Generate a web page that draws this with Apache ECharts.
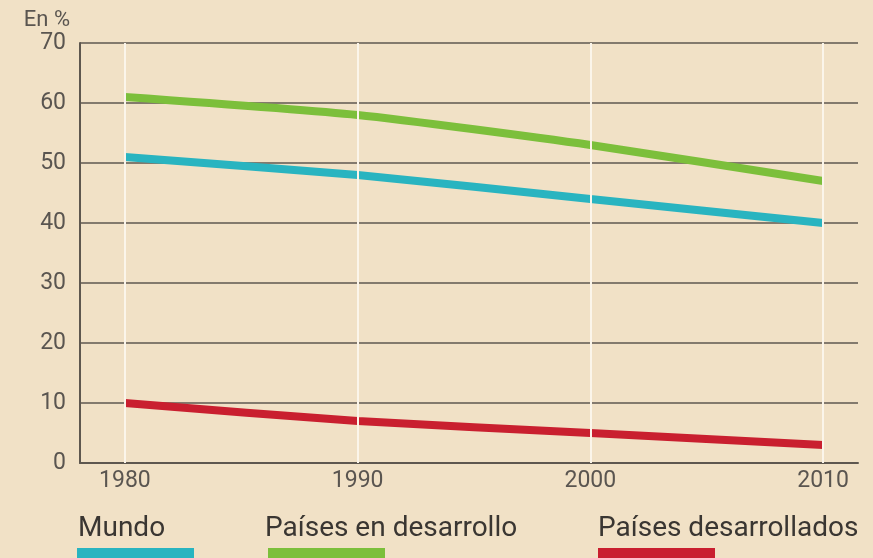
<!DOCTYPE html>
<html>
<head>
<meta charset="utf-8">
<script src="https://cdn.jsdelivr.net/npm/echarts@6/dist/echarts.min.js"></script>
<style>
  html, body { margin: 0; padding: 0; background: #f1e1c6; }
  #chart { width: 873px; height: 558px; }
</style>
</head>
<body>
<div id="chart"></div>
<script>
// años y valores (en %)
const years = [1980, 1990, 2000, 2010]
const mundo = [51, 48, 44, 40]
const enDesarrollo = [61, 58, 53, 47]
const desarrollados = [10, 7, 5, 3]
const seriesNames = ['Mundo', 'Países en desarrollo', 'Países desarrollados']
const seriesColors = ['#29b4c0', '#7cbf3b', '#c91f2f']

const chart = echarts.init(document.getElementById('chart'))

const axisColor = '#5e574f'
const textColor = '#5a5550'

const makeSeries = (name, values, color) => ({
  name: name,
  type: 'line',
  smooth: 0.2,
  symbol: 'none',
  lineStyle: { width: 8, color: color, cap: 'butt' },
  data: years.map((y, i) => [y, values[i]])
})

const option = {
  backgroundColor: '#f1e1c6',
  animation: false,
  grid: { left: 80, right: 15, top: 43, bottom: 95 },
  xAxis: {
    type: 'value',
    min: 1978.07,
    max: 2011.5,
    axisLine: { show: true, lineStyle: { color: axisColor, width: 2 } },
    axisTick: { show: false, customValues: years },
    axisLabel: {
      customValues: years,
      formatter: v => String(v),
      color: textColor, fontSize: 23, margin: 7, fontFamily: 'Roboto'
    },
    splitLine: { show: false }
  },
  yAxis: {
    type: 'value',
    min: 0,
    max: 70,
    interval: 10,
    name: 'En %',
    nameLocation: 'end',
    nameGap: 8,
    nameTextStyle: { color: textColor, fontSize: 22, align: 'right', padding: [0, 10, 0, 0], fontFamily: 'Roboto' },
    axisLine: { show: true, lineStyle: { color: axisColor, width: 2 } },
    axisTick: { show: false },
    axisLabel: { color: textColor, fontSize: 23, margin: 14, fontFamily: 'Roboto' },
    splitLine: { show: true, lineStyle: { color: axisColor, width: 1.5 } }
  },
  series: [
    // líneas verticales blancas en cada año
    {
      type: 'line',
      data: [],
      silent: true,
      markLine: {
        symbol: 'none',
        silent: true,
        label: { show: false },
        lineStyle: { color: '#fbf5ea', width: 2, type: 'solid' },
        data: years.map(y => [{ coord: [y, 0] }, { coord: [y, 70] }])
      }
    },
    makeSeries(seriesNames[0], mundo, seriesColors[0]),
    makeSeries(seriesNames[1], enDesarrollo, seriesColors[1]),
    makeSeries(seriesNames[2], desarrollados, seriesColors[2])
  ],
  graphic: [
    ...[78, 265, 598].map((x, i) => ({
      type: 'text',
      left: x,
      top: 515,
      style: { text: seriesNames[i], fill: '#3a3632', fontSize: 28, fontFamily: 'Roboto' }
    })),
    ...[77, 268, 598].map((x, i) => ({
      type: 'rect',
      shape: { x: x, y: 548, width: 117, height: 12 },
      style: { fill: seriesColors[i] }
    }))
  ]
}

chart.setOption(option)
window.addEventListener('resize', () => chart.resize())
</script>
</body>
</html>
